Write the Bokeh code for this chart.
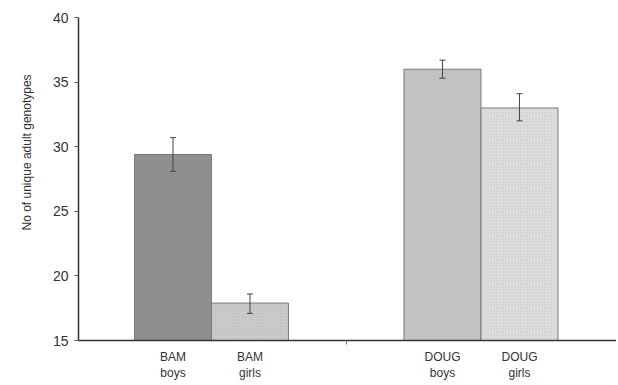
from bokeh.plotting import figure
from bokeh.models import ColumnDataSource, Whisker, TeeHead, FixedTicker, Range1d, Title
from bokeh.embed import file_html
from bokeh.resources import INLINE

groups = ["BAM", "DOUG"]
sexes = ["boys", "girls"]
means = [29.4, 17.9, 36.0, 33.0]
upper = [30.7, 18.6, 36.7, 34.1]
lower = [28.1, 17.1, 35.3, 32.0]
fills = ["#8f8f8f", "#cbcbcb", "#c2c2c2", "#dedede"]
hatches = [" ", "dot", " ", "dot"]
y_ticks = [15, 20, 25, 30, 35, 40]
y_title = "No of unique adult genotypes"

group_gap = 1.5
xs, labels = [], []
for gi, g in enumerate(groups):
    for si, s in enumerate(sexes):
        xs.append(gi * (len(sexes) + group_gap) + si)
        labels.append(f"{g}\n{s}")
mid = (xs[1] + xs[2]) / 2

src = ColumnDataSource(dict(x=xs, top=means, upper=upper, lower=lower,
                            fill=fills, hatch=hatches))

p = figure(width=616, height=385, output_backend="svg", toolbar_location=None,
           x_range=Range1d(-1.227, 5.76), y_range=Range1d(15, 40),
           min_border_left=78, min_border_right=0, min_border_top=17,
           min_border_bottom=45)
p.outline_line_color = None
p.xgrid.visible = False
p.ygrid.visible = False

p.vbar(x="x", top="top", bottom=15, width=1.0, source=src, fill_color="fill",
       line_color="#7a7a7a", line_width=1, hatch_pattern="hatch",
       hatch_color="#9a9a9a", hatch_alpha=0.35, hatch_scale=3)

w = Whisker(source=src, base="x", upper="upper", lower="lower",
            line_color="#444444", line_width=1, level="overlay",
            upper_head=TeeHead(size=6, line_color="#444444", line_width=1),
            lower_head=TeeHead(size=6, line_color="#444444", line_width=1))
p.add_layout(w)

font = "Liberation Sans"
p.yaxis.ticker = FixedTicker(ticks=y_ticks)
p.yaxis.minor_tick_line_color = None
p.yaxis.major_tick_out = 4
p.yaxis.major_tick_in = 0
p.yaxis.axis_line_color = "#333333"
p.yaxis.axis_line_width = 1.5
p.yaxis.major_tick_line_color = "#555555"
p.yaxis.major_label_text_font = font
p.yaxis.major_label_text_font_size = "14px"
p.yaxis.major_label_text_color = "#333333"
p.yaxis.major_label_standoff = 6

t = Title(text=y_title, align="left", offset=110, standoff=31,
          text_font=font, text_font_size="12px", text_font_style="normal",
          text_color="#333333")
p.add_layout(t, "left")

p.xaxis.ticker = FixedTicker(ticks=xs, minor_ticks=[mid])
p.xaxis.major_label_overrides = {x: l for x, l in zip(xs, labels)}
p.xaxis.major_tick_line_color = None
p.xaxis.minor_tick_out = 4
p.xaxis.minor_tick_in = 0
p.xaxis.minor_tick_line_color = "#777777"
p.xaxis.axis_line_color = "#333333"
p.xaxis.axis_line_width = 1.5
p.xaxis.major_label_text_font = font
p.xaxis.major_label_text_font_size = "12px"
p.xaxis.major_label_text_color = "#333333"
p.xaxis.major_label_standoff = 3

open("out.html", "w").write(file_html(p, INLINE))
